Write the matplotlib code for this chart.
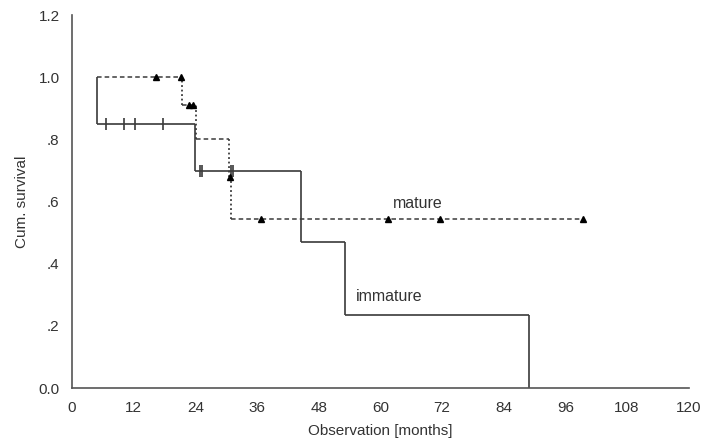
import matplotlib
matplotlib.use("Agg")
import matplotlib.pyplot as plt

plt.rcParams['font.family'] = ['Liberation Sans', 'DejaVu Sans']

# immature group: step curve (time, survival after the step)
imm_t = [4.9, 24.0, 44.5, 53.2, 89.0]
imm_s = [1.0, 0.85, 0.70, 0.47, 0.235, 0.0]
imm_cens_t = [6.5, 10.1, 12.2, 17.7, 24.9, 25.3, 31.0, 31.4]
imm_cens_s = [0.85, 0.85, 0.85, 0.85, 0.70, 0.70, 0.70, 0.70]

# mature group
mat_t = [4.9, 21.4, 24.1, 30.6, 30.9]
mat_s = [1.0, 1.0, 0.91, 0.80, 0.68, 0.545]
mat_end = 99.4
mat_cens_t = [16.4, 21.2, 22.8, 23.6, 30.7, 36.8, 61.5, 71.6, 99.4]
mat_cens_s = [1.0, 1.0, 0.91, 0.91, 0.68, 0.545, 0.545, 0.545, 0.545]

line_col = '#3a3a3a'
text_col = '#333333'

fig = plt.figure(figsize=(7.07, 4.45), dpi=100)
ax = fig.add_axes([0.102, 0.128, 0.872, 0.838])

# immature: solid steps
for i in range(len(imm_t)):
    ax.vlines(imm_t[i], imm_s[i + 1], imm_s[i], color=line_col, lw=1.2)
    if i + 1 < len(imm_t):
        ax.hlines(imm_s[i + 1], imm_t[i], imm_t[i + 1], color=line_col, lw=1.2)
ax.plot(imm_cens_t, imm_cens_s, ls='none', marker='|', ms=9, mew=1.2, color=line_col)

# mature: dashed horizontals, dotted verticals
ax.hlines(mat_s[0], mat_t[0], mat_t[1], color=line_col, lw=1.1, linestyles=(0, (3, 2)))
for i in range(1, len(mat_t)):
    ax.vlines(mat_t[i], mat_s[i + 1], mat_s[i], color=line_col, lw=1.3, linestyles=(0, (1, 1.5)))
    t_end = mat_t[i + 1] if i + 1 < len(mat_t) else mat_end
    if t_end > mat_t[i] + 0.5:
        ax.hlines(mat_s[i + 1], mat_t[i], t_end, color=line_col, lw=1.1, linestyles=(0, (3, 2)))
ax.plot(mat_cens_t, mat_cens_s, ls='none', marker='^', ms=5, color='black')

ax.text(67.2, 0.595, 'mature', ha='center', va='center', fontsize=11.5, color=text_col)
ax.text(61.7, 0.293, 'immature', ha='center', va='center', fontsize=11.5, color=text_col)

ax.set_xlim(0, 120)
ax.set_ylim(0, 1.2)
ax.set_xticks(range(0, 121, 12))
ax.set_yticks([0, 0.2, 0.4, 0.6, 0.8, 1.0, 1.2])
ax.set_yticklabels(['0.0', '.2', '.4', '.6', '.8', '1.0', '1.2'])
ax.tick_params(length=0, labelsize=11, colors=text_col, pad=9)
for side in ['top', 'right']:
    ax.spines[side].set_visible(False)
for side in ['left', 'bottom']:
    ax.spines[side].set_color('#555555')
    ax.spines[side].set_linewidth(1.2)
ax.set_xlabel('Observation [months]', fontsize=11, color=text_col, labelpad=7)
ax.set_ylabel('Cum. survival', fontsize=11, color=text_col, labelpad=7)

fig.savefig('out.png', dpi=100)
